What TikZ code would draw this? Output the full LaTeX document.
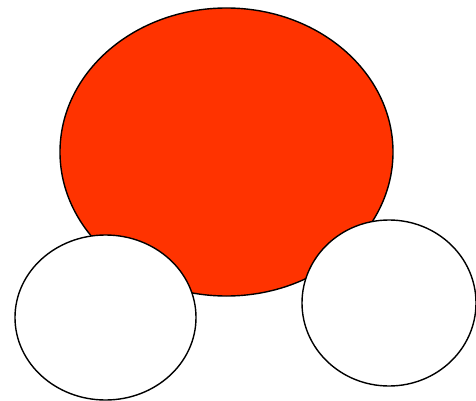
\documentclass[tikz,border=0pt]{standalone}
\usetikzlibrary{shapes.geometric}
\definecolor{redorange}{HTML}{FF3300}
\begin{document}
\begin{tikzpicture}[x=1pt,y=-1pt,
  blob/.style={ellipse, draw=black, line width=1.4pt, inner sep=0pt}]
\useasboundingbox (0,0) rectangle (476,401);
\node[blob, fill=redorange, minimum width=333pt, minimum height=288pt] (head) at (226.5,152) {};
\node[blob, fill=white, minimum width=181pt, minimum height=165pt] (left) at (105.5,317.5) {};
\node[blob, fill=white, minimum width=174pt, minimum height=166pt] (right) at (389,303) {};
\end{tikzpicture}
\end{document}
